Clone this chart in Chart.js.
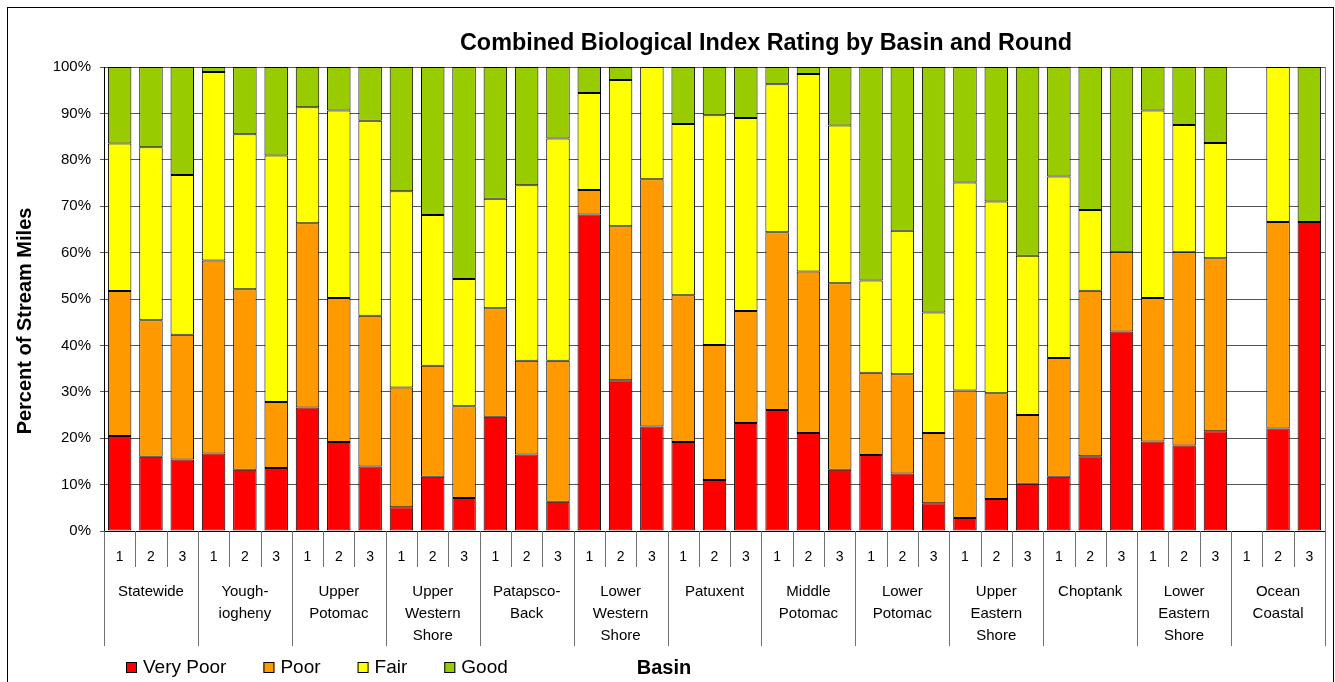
<!DOCTYPE html>
<html>
<head>
<meta charset="utf-8">
<title>Combined Biological Index Rating by Basin and Round</title>
<script src="https://cdn.jsdelivr.net/npm/chart.js@4.4.1/dist/chart.umd.min.js"></script>
<style>
    html, body { margin: 0; padding: 0; background: #ffffff; }
    #wrap { width: 1335px; height: 682px; position: relative; }
</style>
</head>
<body>
<div id="wrap"><canvas id="ratingChart" width="1335" height="682"></canvas></div>
<script>
// Basins (multi-line names as shown under the axis) and sampling rounds
const basins = [
    ['Statewide'],
    ['Yough-', 'iogheny'],
    ['Upper', 'Potomac'],
    ['Upper', 'Western', 'Shore'],
    ['Patapsco-', 'Back'],
    ['Lower', 'Western', 'Shore'],
    ['Patuxent'],
    ['Middle', 'Potomac'],
    ['Lower', 'Potomac'],
    ['Upper', 'Eastern', 'Shore'],
    ['Choptank'],
    ['Lower', 'Eastern', 'Shore'],
    ['Ocean', 'Coastal']
];
const rounds = ['1', '2', '3'];
const yTicks = [0, 10, 20, 30, 40, 50, 60, 70, 80, 90, 100];

// Percent of stream miles, three rounds per basin
const veryPoor = [
    20.5, 16.0, 15.4,
    16.7, 13.2, 13.6,
    26.6, 19.2, 13.9,
    5.1, 11.7, 7.1,
    24.6, 16.5, 6.3,
    68.2, 32.5, 22.5,
    19.2, 11.0, 23.3,
    26.1, 21.1, 13.2,
    16.4, 12.4, 6.0,
    2.8, 6.9, 10.2,
    11.7, 16.1, 43.0,
    19.3, 18.4, 21.5,
    0, 22.1, 66.6
];
const poor = [
    31.2, 29.4, 26.9,
    41.6, 38.9, 14.2,
    39.7, 31.0, 32.5,
    25.8, 23.9, 19.8,
    23.4, 20.2, 30.4,
    5.3, 33.2, 53.3,
    31.6, 29.1, 24.1,
    38.3, 34.8, 40.2,
    17.7, 21.4, 15.1,
    27.5, 22.8, 14.8,
    25.6, 35.7, 17.1,
    30.9, 41.7, 37.3,
    0, 44.5, 0
];
const fair = [
    31.8, 37.3, 34.4,
    40.6, 33.4, 53.1,
    25.0, 40.4, 42.0,
    42.3, 32.5, 27.4,
    23.6, 37.8, 47.9,
    20.9, 31.5, 24.2,
    36.9, 49.5, 41.6,
    31.9, 42.6, 34.0,
    19.9, 30.9, 26.0,
    44.8, 41.3, 34.3,
    39.1, 17.4, 0,
    40.4, 27.4, 24.8,
    0, 33.4, 0
];
const good = [
    16.5, 17.3, 23.3,
    1.1, 14.5, 19.1,
    8.7, 9.4, 11.6,
    26.8, 31.9, 45.7,
    28.4, 25.5, 15.4,
    5.6, 2.8, 0,
    12.3, 10.4, 11.0,
    3.7, 1.5, 12.6,
    46.0, 35.3, 52.9,
    24.9, 29.0, 40.7,
    23.6, 30.8, 39.9,
    9.4, 12.5, 16.4,
    0, 0, 33.4
];

const FONT = "'Liberation Sans', Arial, sans-serif";
Chart.defaults.font.family = FONT;
Chart.defaults.color = '#000000';

// one label per bar: the round number
const labels = [];
basins.forEach(() => rounds.forEach(r => labels.push(r)));

function makeSet(label, values, color) {
    return {
        label: label,
        data: values.map(v => v || null),
        backgroundColor: color,
        borderColor: '#000000',
        borderWidth: 1,
        borderSkipped: false,
        barPercentage: 0.75,
        categoryPercentage: 1.0
    };
}

// Titles, two-level category axis, legend and frame
const chartDecor = {
    id: 'chartDecor',
    beforeDraw(chart) {
        const ctx = chart.ctx;
        ctx.save();
        ctx.fillStyle = '#ffffff';
        ctx.fillRect(0, 0, chart.width, chart.height);
        ctx.restore();
    },
    afterDraw(chart) {
        const ctx = chart.ctx;
        const area = chart.chartArea;
        const x = chart.scales.x;
        ctx.save();

        // outer frame
        ctx.strokeStyle = '#000000';
        ctx.lineWidth = 1;
        ctx.strokeRect(7.5, 7.5, 1326, 700);

        // plot right edge
        ctx.strokeStyle = '#808080';
        ctx.beginPath();
        ctx.moveTo(Math.round(area.right) + 0.5, area.top);
        ctx.lineTo(Math.round(area.right) + 0.5, area.bottom);
        ctx.stroke();

        // category separators: short between rounds, long between basins
        ctx.strokeStyle = '#707070';
        const n = labels.length;
        ctx.beginPath();
        for (let i = 0; i <= n; i++) {
            const px = Math.round(x.getPixelForValue(i - 0.5)) + 0.5;
            ctx.moveTo(px, area.bottom);
            ctx.lineTo(px, i % rounds.length === 0 ? 646 : 567);
        }
        ctx.stroke();

        // basin names
        ctx.fillStyle = '#000000';
        ctx.font = '15px ' + FONT;
        ctx.textAlign = 'center';
        ctx.textBaseline = 'middle';
        basins.forEach((name, b) => {
            const cx = x.getPixelForValue(b * rounds.length + 1);
            name.forEach((line, k) => ctx.fillText(line, cx, 592 + k * 22));
        });

        // chart title
        ctx.font = 'bold 23.4px ' + FONT;
        ctx.textBaseline = 'alphabetic';
        ctx.fillText('Combined Biological Index Rating by Basin and Round', 766, 50);

        // value axis title
        ctx.save();
        ctx.translate(31, 321);
        ctx.rotate(-Math.PI / 2);
        ctx.font = 'bold 20px ' + FONT;
        ctx.fillText('Percent of Stream Miles', 0, 0);
        ctx.restore();

        // category axis title
        ctx.font = 'bold 20px ' + FONT;
        ctx.textBaseline = 'middle';
        ctx.fillText('Basin', 664, 668);

        // legend
        ctx.font = '19px ' + FONT;
        ctx.textAlign = 'left';
        let lx = 126;
        chart.data.datasets.forEach(ds => {
            ctx.fillStyle = ds.backgroundColor;
            ctx.fillRect(lx, 662, 11, 11);
            ctx.strokeStyle = '#000000';
            ctx.strokeRect(lx + 0.5, 662.5, 10, 10);
            ctx.fillStyle = '#000000';
            ctx.fillText(ds.label, lx + 17, 668);
            lx += 17 + ctx.measureText(ds.label).width + 37;
        });

        ctx.restore();
    }
};

const ratingChart = new Chart(document.getElementById('ratingChart').getContext('2d'), {
    type: 'bar',
    data: {
        labels: labels,
        datasets: [
            makeSet('Very Poor', veryPoor, '#ff0000'),
            makeSet('Poor', poor, '#ff9900'),
            makeSet('Fair', fair, '#ffff00'),
            makeSet('Good', good, '#99cc00')
        ]
    },
    options: {
        responsive: false,
        devicePixelRatio: 1,
        animation: false,
        layout: { padding: { top: 67, right: 10, left: 0, bottom: 0 } },
        plugins: {
            legend: { display: false },
            tooltip: { enabled: false },
            title: { display: false }
        },
        scales: {
            x: {
                stacked: true,
                offset: true,
                grid: { display: false, drawTicks: false },
                border: { display: true, color: '#000000', width: 1 },
                ticks: {
                    color: '#000000',
                    font: { size: 14 },
                    padding: 18,
                    maxRotation: 0,
                    autoSkip: false
                },
                afterFit: scale => { scale.height = 151; }
            },
            y: {
                stacked: true,
                min: yTicks[0],
                max: yTicks[yTicks.length - 1],
                afterBuildTicks: scale => { scale.ticks = yTicks.map(v => ({ value: v })); },
                ticks: {
                    color: '#000000',
                    font: { size: 15 },
                    padding: 9,
                    callback: v => v + '%'
                },
                grid: { color: '#555555', tickLength: 4 },
                border: { color: '#000000', width: 1 },
                afterFit: scale => { scale.width = 104; }
            }
        }
    },
    plugins: [chartDecor]
});
</script>
</body>
</html>
